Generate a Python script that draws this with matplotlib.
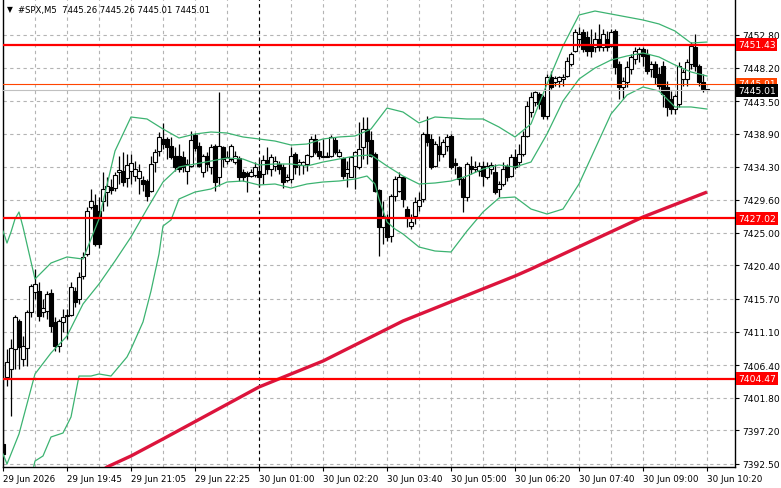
import numpy as np
import matplotlib.pyplot as plt

# M5 candles, #SPX
opens = [7395.29, 7404.71, 7405.84, 7408.65, 7412.59, 7407.24, 7408.79, 7413.85, 7416.66, 7416.80,
         7413.85, 7413.99, 7416.52, 7412.45, 7409.07, 7412.45, 7413.29, 7413.43, 7416.80, 7415.68,
         7418.91, 7422.01, 7428.62, 7428.90, 7428.05, 7429.46, 7430.72, 7431.43, 7431.29, 7433.54,
         7433.68, 7432.69, 7433.68, 7432.97, 7432.69, 7432.41, 7432.27, 7430.87, 7434.94, 7436.49,
         7438.18, 7438.18, 7437.19, 7435.79, 7435.79, 7435.65, 7433.68, 7434.38, 7438.74, 7437.19,
         7433.54, 7435.79, 7434.24, 7437.19, 7432.83, 7437.05, 7435.08, 7435.36, 7434.94, 7435.50,
         7433.54, 7433.40, 7432.97, 7433.11, 7433.68, 7433.25, 7435.22, 7433.96, 7434.38, 7434.66,
         7434.24, 7432.41, 7432.55, 7436.07, 7434.52, 7434.52, 7434.66, 7435.79, 7438.18, 7436.49,
         7435.79, 7435.65, 7435.79, 7438.04, 7435.79, 7435.50, 7433.40, 7432.83, 7434.38, 7434.24,
         7437.05, 7439.58, 7438.04, 7436.07, 7431.01, 7425.80, 7427.21, 7424.54, 7430.16, 7430.87,
         7432.83, 7428.33, 7425.95, 7427.35, 7428.76, 7429.74, 7438.88, 7438.18, 7434.38, 7437.19,
         7436.07, 7437.19, 7438.60, 7434.80, 7434.24, 7432.55, 7430.02, 7434.38, 7433.96, 7433.68,
         7434.38, 7432.83, 7433.96, 7433.54, 7431.15, 7431.85, 7434.38, 7432.97, 7435.65, 7434.94,
         7436.07, 7438.60, 7441.97, 7443.38, 7444.50, 7444.08, 7441.41, 7446.89, 7446.19, 7446.33,
         7446.61, 7447.03, 7448.72, 7450.55, 7452.24, 7453.22, 7452.52, 7451.25, 7451.11, 7452.24,
         7451.11, 7452.24, 7451.25, 7453.36, 7448.72, 7445.49, 7446.19, 7448.02, 7449.42, 7450.13,
         7450.83, 7450.13, 7448.02, 7448.72, 7447.31, 7448.44, 7445.49, 7443.80, 7442.39, 7443.10,
         7446.61, 7446.61, 7448.72, 7451.11, 7448.44, 7446.19, 7445.26]
highs = [7406.82, 7408.65, 7410.06, 7413.43, 7412.87, 7410.48, 7414.13, 7417.79, 7419.90, 7418.07,
         7415.68, 7416.80, 7417.09, 7413.15, 7412.87, 7414.27, 7414.27, 7418.07, 7417.37, 7419.48,
         7422.29, 7428.62, 7431.15, 7430.44, 7430.02, 7433.54, 7432.83, 7432.55, 7433.54, 7435.79,
         7436.35, 7436.07, 7436.07, 7435.08, 7434.66, 7432.97, 7432.55, 7435.79, 7436.77, 7439.16,
         7440.43, 7438.46, 7438.46, 7437.05, 7437.47, 7436.49, 7435.36, 7439.30, 7439.02, 7437.75,
         7436.07, 7436.35, 7437.47, 7437.47, 7444.78, 7437.19, 7436.49, 7437.47, 7436.49, 7435.79,
         7433.96, 7433.68, 7433.96, 7434.94, 7435.36, 7435.93, 7437.05, 7436.07, 7435.79, 7435.08,
         7434.66, 7433.25, 7437.05, 7436.35, 7435.36, 7435.08, 7436.07, 7438.60, 7438.88, 7437.75,
         7438.18, 7436.35, 7438.74, 7438.46, 7436.77, 7435.65, 7435.08, 7435.79, 7436.49, 7440.57,
         7441.27, 7441.27, 7439.30, 7436.35, 7431.15, 7429.46, 7427.63, 7430.44, 7432.97, 7433.54,
         7432.97, 7428.76, 7427.63, 7430.02, 7430.72, 7439.16, 7441.41, 7438.88, 7437.89, 7438.60,
         7438.18, 7438.88, 7438.88, 7435.50, 7434.38, 7432.83, 7434.94, 7435.79, 7435.08, 7434.94,
         7435.08, 7434.94, 7434.94, 7434.66, 7432.27, 7434.94, 7434.66, 7436.07, 7436.77, 7437.47,
         7439.30, 7443.52, 7444.78, 7444.92, 7444.78, 7444.36, 7447.31, 7447.74, 7447.03, 7447.03,
         7447.31, 7449.71, 7450.41, 7453.64, 7453.92, 7453.64, 7453.36, 7453.64, 7453.22, 7454.35,
         7453.64, 7453.36, 7453.64, 7453.64, 7449.14, 7446.89, 7449.14, 7450.13, 7451.11, 7451.11,
         7451.11, 7450.83, 7449.14, 7449.14, 7448.30, 7449.14, 7446.33, 7444.92, 7444.50, 7449.00,
         7448.02, 7449.42, 7451.81, 7452.94, 7448.72, 7447.31, 7445.26]
lows = [7393.18, 7403.45, 7399.23, 7405.84, 7405.84, 7406.26, 7406.26, 7413.15, 7415.68, 7412.59,
        7413.15, 7412.87, 7411.04, 7408.37, 7408.23, 7411.04, 7410.06, 7413.29, 7414.56, 7414.98,
        7418.49, 7421.73, 7428.33, 7423.13, 7422.85, 7428.05, 7428.76, 7430.44, 7430.87, 7431.85,
        7431.57, 7431.43, 7431.85, 7432.27, 7430.44, 7430.87, 7429.46, 7430.72, 7433.54, 7435.79,
        7436.77, 7435.36, 7435.36, 7433.68, 7433.54, 7433.54, 7431.85, 7434.24, 7436.49, 7434.24,
        7432.83, 7433.68, 7433.25, 7430.87, 7431.57, 7434.24, 7434.66, 7435.08, 7434.66, 7432.27,
        7432.27, 7430.72, 7432.83, 7432.83, 7431.43, 7431.85, 7433.25, 7432.97, 7433.68, 7433.25,
        7431.29, 7432.13, 7431.99, 7433.25, 7433.11, 7433.25, 7433.68, 7435.65, 7436.07, 7435.36,
        7435.65, 7435.60, 7435.65, 7436.07, 7435.65, 7432.55, 7431.43, 7432.83, 7431.15, 7433.96,
        7435.36, 7434.66, 7435.65, 7430.72, 7421.73, 7423.41, 7423.83, 7423.69, 7429.46, 7430.72,
        7428.62, 7425.80, 7425.52, 7426.23, 7428.05, 7429.32, 7437.19, 7433.96, 7434.24, 7435.08,
        7435.65, 7436.49, 7433.96, 7433.25, 7431.71, 7427.91, 7429.46, 7433.25, 7433.54, 7432.97,
        7431.57, 7432.55, 7433.25, 7430.44, 7430.02, 7431.57, 7432.27, 7432.83, 7433.96, 7434.38,
        7435.79, 7438.46, 7441.27, 7442.82, 7442.39, 7440.99, 7440.99, 7445.21, 7445.63, 7445.49,
        7445.63, 7446.89, 7448.44, 7450.41, 7451.11, 7450.41, 7449.85, 7449.71, 7450.41, 7450.55,
        7450.55, 7450.55, 7451.11, 7447.31, 7443.80, 7443.80, 7445.49, 7447.31, 7448.72, 7449.00,
        7448.44, 7447.31, 7446.89, 7445.91, 7445.21, 7442.68, 7441.41, 7441.69, 7441.69, 7442.68,
        7445.63, 7445.63, 7448.02, 7447.74, 7445.63, 7444.78, 7445.01]
closes = [7393.89, 7406.82, 7408.79, 7413.15, 7408.93, 7409.07, 7413.85, 7417.51, 7417.79, 7413.29,
          7414.41, 7416.38, 7411.88, 7409.07, 7412.59, 7413.15, 7413.43, 7417.37, 7415.26, 7418.77,
          7421.59, 7428.05, 7429.46, 7423.41, 7423.41, 7431.15, 7431.57, 7431.01, 7433.11, 7433.82,
          7432.13, 7434.52, 7434.80, 7433.96, 7433.68, 7431.85, 7430.16, 7434.66, 7436.35, 7438.46,
          7437.47, 7437.05, 7435.65, 7434.24, 7433.96, 7434.24, 7434.66, 7438.04, 7436.91, 7434.38,
          7435.79, 7434.66, 7437.05, 7432.13, 7437.19, 7435.36, 7435.65, 7437.19, 7435.79, 7432.83,
          7432.83, 7432.97, 7433.54, 7434.24, 7432.83, 7435.22, 7433.96, 7435.65, 7435.08, 7433.96,
          7432.13, 7432.83, 7435.79, 7434.24, 7434.94, 7434.94, 7435.93, 7438.18, 7436.35, 7435.79,
          7435.70, 7435.79, 7438.46, 7436.35, 7436.35, 7432.97, 7433.96, 7435.65, 7436.35, 7436.77,
          7439.58, 7437.89, 7435.79, 7430.87, 7425.80, 7427.35, 7424.40, 7430.16, 7432.55, 7432.83,
          7429.74, 7427.21, 7426.51, 7429.32, 7429.60, 7438.88, 7437.75, 7434.24, 7437.47, 7436.07,
          7437.75, 7438.46, 7434.24, 7434.52, 7432.55, 7430.02, 7434.66, 7433.96, 7434.24, 7434.38,
          7432.97, 7434.38, 7434.52, 7430.72, 7431.85, 7433.96, 7432.83, 7435.65, 7434.24, 7436.07,
          7438.60, 7442.82, 7444.08, 7444.78, 7443.10, 7441.41, 7446.89, 7445.49, 7446.75, 7446.89,
          7446.89, 7449.14, 7450.13, 7453.22, 7452.94, 7450.83, 7450.55, 7450.55, 7452.24, 7451.11,
          7452.94, 7451.11, 7453.22, 7448.30, 7445.49, 7446.33, 7448.30, 7449.71, 7450.55, 7450.83,
          7449.85, 7447.74, 7448.72, 7446.89, 7445.63, 7444.50, 7442.68, 7442.39, 7444.22, 7448.44,
          7447.60, 7449.00, 7451.25, 7448.44, 7446.19, 7445.21, 7445.01]

# Bollinger bands (at these bar numbers)
upper_idx = [0, 1, 2, 3, 4, 5] + list(range(8, 177, 4))
upper = [7425.24, 7423.55, 7425.10, 7426.93, 7427.91, 7425.80, 7418.49, 7420.74, 7421.59, 7421.30,
         7426.93, 7436.49, 7441.27, 7440.99, 7439.58, 7438.32, 7438.88, 7439.16, 7439.02, 7438.46,
         7438.18, 7437.89, 7437.33, 7437.47, 7438.18, 7438.46, 7438.60, 7439.58, 7442.53, 7441.97,
         7440.43, 7441.27, 7441.13, 7440.99, 7440.99, 7439.86, 7438.46, 7440.29, 7445.91, 7451.25,
         7455.61, 7456.17, 7455.75, 7455.33, 7454.91, 7454.35, 7453.36, 7451.67, 7451.81]
middle_idx = [0, 1] + list(range(4, 177, 4))
middle = [7393.89, 7392.48, 7396.70, 7405.14, 7408.09, 7410.48, 7414.98, 7417.79, 7421.02, 7424.40,
          7428.33, 7432.13, 7434.24, 7434.66, 7435.08, 7435.50, 7435.36, 7434.52, 7434.66, 7434.66,
          7434.38, 7434.94, 7435.36, 7435.79, 7435.93, 7434.38, 7432.97, 7431.85, 7431.99, 7432.27,
          7432.97, 7433.96, 7434.52, 7434.24, 7434.94, 7438.88, 7443.52, 7446.61, 7448.16, 7449.28,
          7449.85, 7450.27, 7449.71, 7448.58, 7447.60, 7447.03]
lower_idx = [7, 8, 10, 12, 15, 17, 19, 22, 24, 27, 31, 32, 35, 37, 39, 40, 42, 44, 48, 52, 56, 60,
             64, 68, 72, 76, 80, 84, 88, 91, 93, 94, 96, 98, 100, 104, 108, 112, 116, 120, 124, 128,
             132, 136, 140, 144, 148, 152, 156, 160, 164, 168, 172, 176]
lower = [7390.40, 7392.90, 7393.61, 7396.28, 7396.84, 7399.09, 7404.85, 7404.85, 7405.14, 7404.85,
         7407.53, 7408.65, 7412.45, 7416.80, 7422.01, 7425.94, 7426.79, 7429.74, 7430.72, 7431.15,
         7432.13, 7432.27, 7431.71, 7431.85, 7431.29, 7431.85, 7432.13, 7432.27, 7432.55, 7432.97,
         7431.85, 7429.74, 7426.51, 7425.52, 7424.82, 7422.99, 7422.43, 7422.29, 7425.24, 7427.91,
         7429.88, 7430.02, 7428.33, 7427.63, 7428.33, 7431.85, 7436.77, 7441.69, 7444.36, 7445.49,
         7444.92, 7442.68, 7442.68, 7442.39]

# slow moving average (crimson)
ma_idx = [20, 26, 32, 40, 64, 80, 100, 128, 132, 160, 176]
ma = [7389.50, 7392.06, 7393.61, 7396.00, 7403.31, 7406.96, 7412.59, 7418.91, 7419.90, 7427.21, 7430.72]

# horizontal levels
levels = [7451.43, 7427.02, 7404.47]
ask_price = 7445.91
bid_price = 7445.01

yticks = [7452.80, 7448.20, 7443.50, 7438.90, 7434.30, 7429.60, 7425.00, 7420.40,
          7415.70, 7411.10, 7406.40, 7401.80, 7397.20, 7392.50]
xtick_pos = list(range(0, 177, 16))
xtick_labels = ['29 Jun 2026', '29 Jun 19:45', '29 Jun 21:05', '29 Jun 22:25', '30 Jun 01:00',
                '30 Jun 02:20', '30 Jun 03:40', '30 Jun 05:00', '30 Jun 06:20', '30 Jun 07:40',
                '30 Jun 09:00', '30 Jun 10:20']

fig = plt.figure(figsize=(7.81, 4.89), dpi=100)
ax = fig.add_axes([3 / 781, 1 - 468 / 489, 732 / 781, 468 / 489])
ax.set_xlim(0, 183)
ax.set_ylim(7392.06, 7457.86)

# grid
for t in yticks:
    ax.axhline(t, color='#b4b4b4', lw=0.8, ls=(0, (3, 3)), zorder=0)
for b in range(8, 177, 8):
    ax.axvline(b, color='#b4b4b4', lw=0.8, ls=(0, (3, 3)), zorder=0)
ax.axvline(64, color='black', lw=0.8, ls=(0, (3, 3)), zorder=1)

x = np.arange(len(opens))
o = np.array(opens)
c = np.array(closes)
ax.vlines(x, lows, highs, color='black', lw=0.9, zorder=2)
bottom = np.minimum(o, c)
height = np.maximum(np.abs(c - o), 0.06)
colors = ['white' if cc >= oo else 'black' for oo, cc in zip(o, c)]
ax.bar(x, height, bottom=bottom, width=0.78, color=colors, edgecolor='black', lw=0.8, zorder=3)

green = '#3cb371'
ax.plot(upper_idx, upper, color=green, lw=0.9, zorder=4)
ax.plot(middle_idx, middle, color=green, lw=0.9, zorder=4)
ax.plot(lower_idx, lower, color=green, lw=0.9, zorder=4)
ax.plot(ma_idx, ma, color='#dc143c', lw=2.4, zorder=4, solid_capstyle='butt')

for lv in levels:
    ax.axhline(lv, color='#ff0000', lw=1.6, zorder=5)
ax.axhline(ask_price, color='#ff4500', lw=0.8, zorder=5)
ax.axhline(bid_price, color='#c0c0c0', lw=0.8, zorder=5)

ax.yaxis.tick_right()
ax.set_yticks(yticks)
ax.set_yticklabels(['%.2f' % t for t in yticks], fontsize=6.6)
ax.set_xticks(xtick_pos)
ax.set_xticklabels(xtick_labels, fontsize=6.3, ha='left')
ax.tick_params(axis='both', length=3, width=0.8, pad=2, colors='black')
for s in ax.spines.values():
    s.set_linewidth(1.0)
ax.spines['top'].set_visible(False)

# price tags on the right scale
def tag(price, bg, fg='white'):
    ax.text(1.004, price, '%.2f' % price, transform=ax.get_yaxis_transform(), fontsize=6.6,
            color=fg, va='center', ha='left', zorder=10, clip_on=False,
            bbox=dict(boxstyle='square,pad=0.2', fc=bg, ec='none'))

for lv in levels:
    tag(lv, '#ff0000')
tag(ask_price, '#ff4500')
tag(bid_price, 'black')

fig.text(7 / 781, 1 - 10 / 489, '\u25bc', fontsize=5.5, va='center', ha='left')
fig.text(18 / 781, 1 - 10 / 489, '#SPX,M5  7445.26 7445.26 7445.01 7445.01', fontsize=6.1,
         va='center', ha='left')

fig.savefig('out.png', dpi=100)
